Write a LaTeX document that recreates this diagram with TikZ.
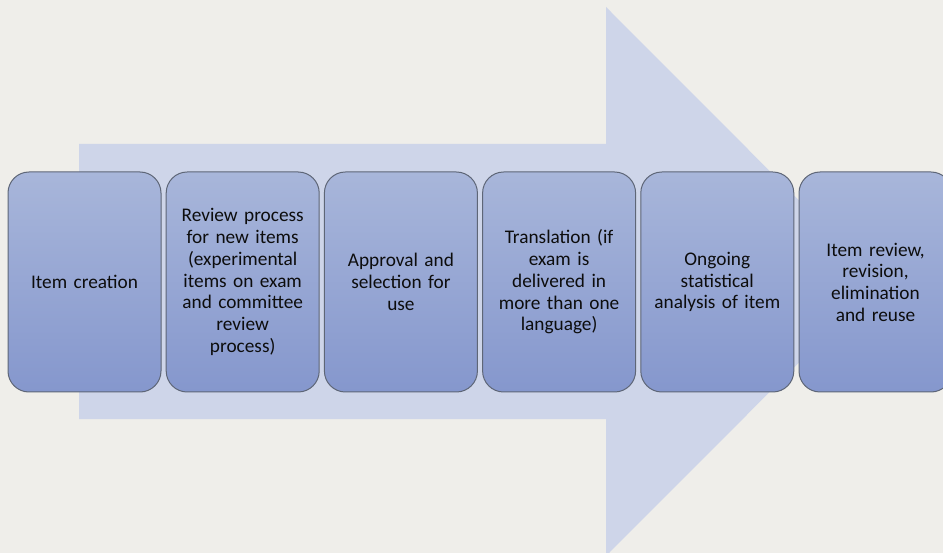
\documentclass[tikz,border=0pt]{standalone}
\usepackage{fontspec}
\setmainfont{Carlito}
\definecolor{pagebg}{HTML}{EFEEEA}
\definecolor{arrowfill}{HTML}{CED5E9}
\definecolor{boxtop}{HTML}{A8B6DA}
\definecolor{boxbottom}{HTML}{8597CD}
\definecolor{boxedge}{HTML}{5E6677}
\begin{document}
\begin{tikzpicture}[x=1pt,y=-1pt,
  stagebox/.style={draw=boxedge, line width=1pt, rounded corners=21pt,
    top color=boxtop, bottom color=boxbottom,
    minimum width=153pt, minimum height=220pt, text width=148pt,
    align=center, inner sep=0pt, text=black!95,
    font=\fontsize{19.3}{21.7}\selectfont}]
  % canvas
  \fill[pagebg] (0,0) rectangle (943,553);
  \useasboundingbox (0,0) rectangle (943,553);
  \clip (0,0) rectangle (943,553);
  % broad process arrow behind the stages
  \fill[arrowfill] (79,144) -- (606,144) -- (606,7) -- (880,281.5)
    -- (606,556) -- (606,419) -- (79,419) -- cycle;
  % stages
  \node[stagebox] (s1) at (84.5,282) {Item creation};
  \node[stagebox] (s2) at (242.7,282) {Review process\\for new items\\(experimental\\items on exam\\and committee\\review\\process)};
  \node[stagebox] (s3) at (400.9,282) {Approval and\\selection for\\use};
  \node[stagebox] (s4) at (559.1,282) {Translation (if\\exam is\\delivered in\\more than one\\language)};
  \node[stagebox] (s5) at (717.3,282) {Ongoing\\statistical\\analysis of item};
  \node[stagebox] (s6) at (875.5,282) {Item review,\\revision,\\elimination\\and reuse};
\end{tikzpicture}
\end{document}
